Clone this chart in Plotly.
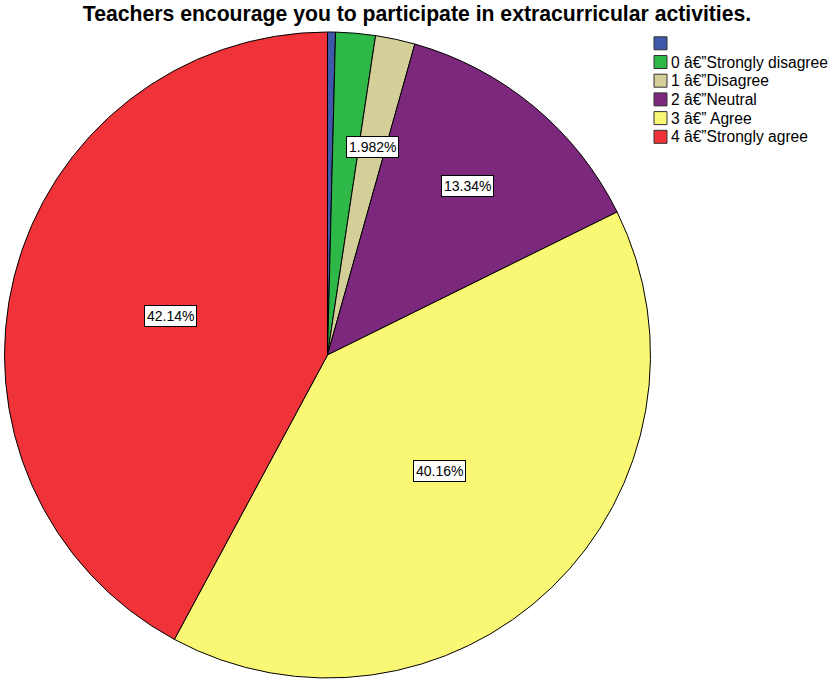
import math
import plotly.graph_objects as go

categories = [" ", "0 \u00e2\u20ac\u201dStrongly disagree", "1 \u00e2\u20ac\u201dDisagree",
              "2 \u00e2\u20ac\u201dNeutral", "3 \u00e2\u20ac\u201d Agree", "4 \u00e2\u20ac\u201dStrongly agree"]
values = [0.396, 1.982, 1.982, 13.34, 40.16, 42.14]
shown_labels = ["", "", "1.982%", "13.34%", "40.16%", "42.14%"]
colors = ["#3E58AC", "#2EB848", "#D4CE98", "#7C287D", "#FAF774", "#EF3338"]
label_radius = [0.6, 0.6, 0.66, 0.68, 0.5, 0.5]

W, H = 831, 681
left, right, top, bottom = 3, 652, 32, 678
cx = (left + right) / 2
cy = (top + bottom) / 2
R = (bottom - top) / 2
FONT = "Liberation Sans, Arial, sans-serif"

fig = go.Figure(go.Pie(
    labels=categories, values=values, sort=False, direction="clockwise", rotation=0,
    marker=dict(colors=colors, line=dict(color="black", width=1)),
    textinfo="none", hoverinfo="label+percent", showlegend=False,
    domain=dict(x=[left / W, right / W], y=[1 - bottom / H, 1 - top / H]),
))

total = sum(values)
cum = 0.0
annotations = []
for v, t, fr in zip(values, shown_labels, label_radius):
    mid = (cum + v / 2) / total * 2 * math.pi
    cum += v
    if not t:
        continue
    px = cx + fr * R * math.sin(mid)
    py = cy - fr * R * math.cos(mid)
    annotations.append(dict(
        x=px / W, y=1 - py / H, xref="paper", yref="paper", text=t, showarrow=False,
        xanchor="center", yanchor="middle",
        bgcolor="white", bordercolor="black", borderwidth=1, borderpad=2,
        font=dict(family=FONT, size=14, color="black"),
    ))

# legend (drawn as swatches + text, one per category)
shapes = []
leg_x0, leg_y0, leg_dy, sw = 654, 43.3, 18.7, 13
for i, (name, col) in enumerate(zip(categories, colors)):
    yc = leg_y0 + i * leg_dy
    shapes.append(dict(type="rect", xref="paper", yref="paper",
                       x0=leg_x0 / W, x1=(leg_x0 + sw) / W,
                       y0=1 - (yc + sw / 2) / H, y1=1 - (yc - sw / 2) / H,
                       fillcolor=col, line=dict(color="#333333", width=1)))
    annotations.append(dict(x=(leg_x0 + sw + 2) / W, y=1 - yc / H, xref="paper", yref="paper",
                            text=name, showarrow=False, xanchor="left", yanchor="middle",
                            font=dict(family=FONT, size=15.6, color="black")))

fig.update_layout(
    width=W, height=H,
    margin=dict(l=0, r=0, t=0, b=0),
    paper_bgcolor="white", plot_bgcolor="white",
    showlegend=False,
    title=dict(text="<b>Teachers encourage you to participate in extracurricular activities.</b>",
               x=417 / W, xanchor="center", y=1 - 14 / H, yanchor="middle",
               font=dict(family=FONT, size=21.2, color="black")),
    annotations=annotations,
    shapes=shapes,
)

fig.write_html("out.html", config={"displayModeBar": False},
               post_script="document.body.style.margin='0px';")
